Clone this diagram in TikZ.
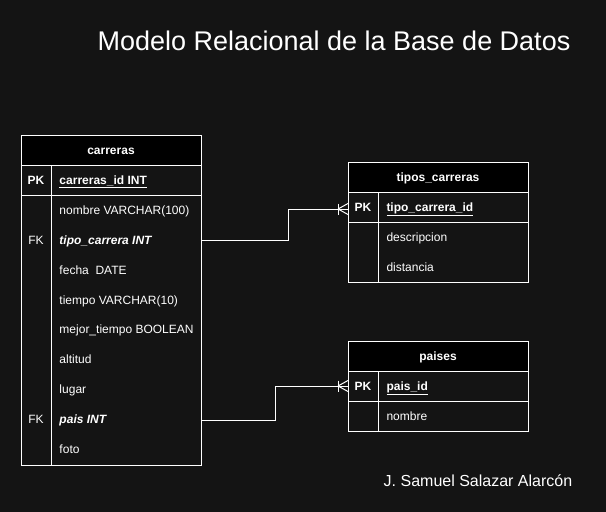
\documentclass[tikz,border=0pt]{standalone}
\usepackage{fontspec}
\setmainfont{Liberation Sans}
\definecolor{fondo}{HTML}{141414}
\begin{document}
\begin{tikzpicture}[x=1pt,y=-1pt,line width=1pt,
  campo/.style={anchor=west,inner sep=0,text height=8.6pt,text depth=0pt,text=white,font=\fontsize{12}{14}\selectfont},
  clave/.style={inner sep=0,text height=8.6pt,text depth=0pt,text=white,font=\fontsize{12}{14}\selectfont},
  tabla/.style={draw=white,fill=fondo},
  cabecera/.style={draw=white,fill=black}]

\fill[fondo] (0,0) rectangle (606,512);

\node[text=white,font=\fontsize{27}{32}\selectfont] (v1) at (334,41) {Modelo Relacional de la Base de Datos};
\node[text=white,font=\fontsize{16}{19}\selectfont] (v2) at (478,481) {J. Samuel Salazar Alarcón};

% carreras
\draw[tabla] (21,135) rectangle (201,465);
\draw[cabecera] (21,135) rectangle (201,165);
\draw[white] (21,195) -- (201,195);
\draw[white] (51,165) -- (51,465);
\node[clave,font=\fontsize{12}{14}\selectfont\bfseries] (v3) at (111,150) {carreras};
\node[clave,font=\fontsize{12}{14}\selectfont\bfseries] (v4) at (36,180) {PK};
\node[campo,font=\fontsize{12}{14}\selectfont\bfseries] (v5) at (59,180) {\underline{carreras\_id INT}};
\node[campo] (v6) at (59,210) {nombre VARCHAR(100)};
\node[clave] (v7) at (36,240) {FK};
\node[campo,font=\fontsize{12}{14}\selectfont\bfseries\itshape] (v8) at (59,240) {tipo\_carrera INT};
\node[campo] (v9) at (59,270) {fecha\ \ DATE};
\node[campo] (v10) at (59,300) {tiempo VARCHAR(10)};
\node[campo] (v11) at (59,329) {mejor\_tiempo BOOLEAN};
\node[campo] (v12) at (59,359) {altitud};
\node[campo] (v13) at (59,389) {lugar};
\node[clave] (v14) at (36,419) {FK};
\node[campo,font=\fontsize{12}{14}\selectfont\bfseries\itshape] (v15) at (59,419) {pais INT};
\node[campo] (v16) at (59,449) {foto};

% tipos_carreras
\draw[tabla] (348,162) rectangle (528,282);
\draw[cabecera] (348,162) rectangle (528,192);
\draw[white] (348,222) -- (528,222);
\draw[white] (378,192) -- (378,282);
\node[clave,font=\fontsize{12}{14}\selectfont\bfseries] (v17) at (438,177) {tipos\_carreras};
\node[clave,font=\fontsize{12}{14}\selectfont\bfseries] (v18) at (363,207) {PK};
\node[campo,font=\fontsize{12}{14}\selectfont\bfseries] (v19) at (386,207) {\underline{tipo\_carrera\_id}};
\node[campo] (v20) at (386,237) {descripcion};
\node[campo] (v21) at (386,267) {distancia};

% paises
\draw[tabla] (348,341) rectangle (528,431);
\draw[cabecera] (348,341) rectangle (528,371);
\draw[white] (348,401) -- (528,401);
\draw[white] (378,371) -- (378,431);
\node[clave,font=\fontsize{12}{14}\selectfont\bfseries] (v22) at (438,356) {paises};
\node[clave,font=\fontsize{12}{14}\selectfont\bfseries] (v23) at (363,386) {PK};
\node[campo,font=\fontsize{12}{14}\selectfont\bfseries] (v24) at (386,386) {\underline{pais\_id}};
\node[campo] (v25) at (386,416) {nombre};

% relaciones
\coordinate (v26) at (201,240);
\coordinate (v27) at (288,240);
\coordinate (v28) at (348,209);
\draw[white] (v26) -- (v27) |- (v28);
\draw[white] ([xshift=-10pt]v28) -- ++(10,-5.5) ([xshift=-10pt]v28) -- ++(10,5.5);
\draw[white] ([xshift=-10pt]v28) ++(0,-5.5) -- ++(0,11);

\coordinate (v29) at (201,420);
\coordinate (v30) at (275,420);
\coordinate (v31) at (348,386);
\draw[white] (v29) -- (v30) |- (v31);
\draw[white] ([xshift=-10pt]v31) -- ++(10,-5.5) ([xshift=-10pt]v31) -- ++(10,5.5);
\draw[white] ([xshift=-10pt]v31) ++(0,-5.5) -- ++(0,11);
\end{tikzpicture}
\end{document}
